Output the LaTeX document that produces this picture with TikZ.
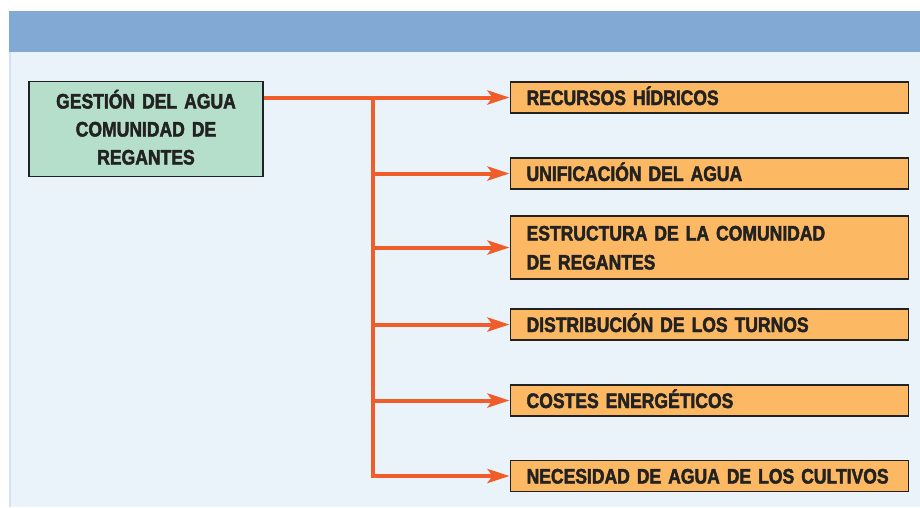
\documentclass[tikz,border=0pt]{standalone}
\usepackage{fontspec}
\setmainfont{Liberation Sans}[FakeStretch=0.835, BoldFeatures={FakeBold=2.2}]
\usetikzlibrary{arrows.meta}
\definecolor{band}{HTML}{82A9D3}
\definecolor{bgc}{HTML}{EAF2FA}
\definecolor{edgebg}{HTML}{D2E2F2}
\definecolor{greenbox}{HTML}{B6DFCB}
\definecolor{orangebox}{HTML}{FCB862}
\definecolor{arrowc}{HTML}{F15D2A}
\definecolor{ink}{HTML}{222222}
\tikzset{
  mainbox/.style={draw=ink, line width=1.2pt, fill=greenbox, minimum width=234pt, minimum height=95pt,
    align=center, text width=230pt, inner sep=0pt, text height=15pt, text depth=56pt,
    font=\bfseries\fontsize{21}{28}\selectfont, text=ink},
  itembox/.style={draw=ink, line width=1.2pt, fill=orangebox, minimum width=398pt, minimum height=31pt,
    anchor=west, align=left, text width=378pt, inner xsep=10pt, inner ysep=0pt,
    text height=15pt, text depth=0pt,
    font=\bfseries\fontsize{21}{29}\selectfont, text=ink},
  conn/.style={draw=arrowc, line width=4pt},
  arr/.style={conn, -{Stealth[length=22pt,width=14pt,inset=5pt]}, shorten >=0.5pt}
}
\begin{document}
\begin{tikzpicture}[x=1pt,y=-1pt]
\useasboundingbox (0,0) rectangle (920,507);
\fill[white] (0,0) rectangle (920,507);
\fill[bgc] (9,52) rectangle (920,507);
\fill[edgebg] (9,52) rectangle (10.5,507);
\fill[band] (9,11) rectangle (920,52);
\node[mainbox] (m) at (146,129) {GESTIÓN DEL AGUA\\COMUNIDAD DE\\REGANTES};
\node[itembox] (r1) at (510,97.5) {\hspace*{6pt}RECURSOS HÍDRICOS};
\node[itembox] (r2) at (510,173.5) {\hspace*{6pt}UNIFICACIÓN DEL AGUA};
\node[itembox, minimum height=63pt, text depth=29pt] (r3) at (510,247.5) {\hspace*{6pt}ESTRUCTURA DE LA COMUNIDAD\\\hspace*{6pt}DE REGANTES};
\node[itembox] (r4) at (510,324.5) {\hspace*{6pt}DISTRIBUCIÓN DE LOS TURNOS};
\node[itembox] (r5) at (510,400.5) {\hspace*{6pt}COSTES ENERGÉTICOS};
\node[itembox] (r6) at (510,476) {\hspace*{6pt}NECESIDAD DE AGUA DE LOS CULTIVOS};
\coordinate (j) at (373,97.5);
\draw[arr] (m.east |- r1.west) -- (r1.west);
\draw[arr] (j) |- (r2.west);
\draw[arr] (j) |- (r3.west);
\draw[arr] (j) |- (r4.west);
\draw[arr] (j) |- (r5.west);
\draw[arr] (j) |- (r6.west);
\end{tikzpicture}
\end{document}
